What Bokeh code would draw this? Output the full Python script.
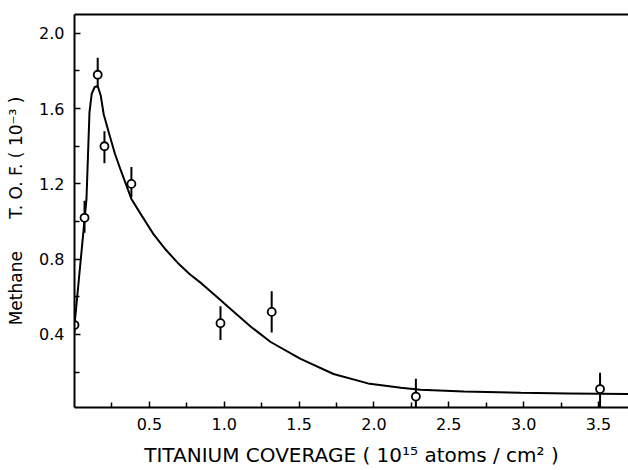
from bokeh.plotting import figure
from bokeh.models import Range1d, LinearAxis, FixedTicker, NumeralTickFormatter
from bokeh.embed import file_html
from bokeh.resources import INLINE

# measured points (Ti coverage, methane TOF x1e-3) with error bar limits
cov = [0.0, 0.067, 0.155, 0.20, 0.38, 0.975, 1.317, 2.28, 3.51]
tof = [0.45, 1.02, 1.78, 1.40, 1.20, 0.46, 0.52, 0.07, 0.11]
err_lo = [0.41, 0.94, 1.71, 1.31, 1.13, 0.37, 0.41, 0.012, 0.012]
err_hi = [0.49, 1.11, 1.87, 1.48, 1.29, 0.55, 0.63, 0.165, 0.197]

# hand-drawn fit curve
curve_x = [0.0, 0.03, 0.06, 0.08, 0.09, 0.10, 0.115, 0.135, 0.155, 0.175, 0.195,
           0.23, 0.27, 0.31, 0.38, 0.45, 0.53, 0.61, 0.69, 0.77, 0.85, 0.95,
           1.05, 1.18, 1.31, 1.51, 1.73, 1.96, 2.18, 2.31, 2.60, 2.98, 3.30, 3.70]
curve_y = [0.45, 0.70, 0.95, 1.12, 1.35, 1.58, 1.68, 1.715, 1.72, 1.67, 1.57,
           1.47, 1.36, 1.27, 1.12, 1.03, 0.93, 0.85, 0.78, 0.72, 0.67, 0.60,
           0.53, 0.44, 0.36, 0.27, 0.19, 0.14, 0.117, 0.106, 0.097, 0.09, 0.087, 0.084]

x_ticks = [0.5, 1.0, 1.5, 2.0, 2.5, 3.0, 3.5]
x_minor = [0.25, 0.75, 1.25, 1.75, 2.25, 2.75, 3.25]
y_ticks = [0.4, 0.8, 1.2, 1.6, 2.0]
y_minor = [0.2, 0.6, 1.0, 1.4, 1.8]

FONT = "DejaVu Sans"
NB = "\u00a0"

p = figure(width=628, height=470, output_backend="svg", toolbar_location=None,
           x_range=Range1d(0, 3.70), y_range=Range1d(0.012, 2.10),
           x_axis_location=None, y_axis_location=None,
           min_border_left=74, min_border_right=0, min_border_top=14,
           min_border_bottom=63)
p.outline_line_color = None
p.xgrid.visible = False
p.ygrid.visible = False
p.background_fill_color = "white"
p.border_fill_color = "white"

xa = LinearAxis(ticker=FixedTicker(ticks=x_ticks, minor_ticks=x_minor),
                formatter=NumeralTickFormatter(format="0.0"))
ya = LinearAxis(ticker=FixedTicker(ticks=y_ticks, minor_ticks=y_minor),
                formatter=NumeralTickFormatter(format="0.0"))
for ax in (xa, ya):
    ax.axis_line_width = 2
    ax.axis_line_color = "black"
    ax.major_tick_in = 6
    ax.major_tick_out = 0
    ax.minor_tick_in = 5
    ax.minor_tick_out = 0
    ax.major_tick_line_width = 1.5
    ax.minor_tick_line_width = 1.5
    ax.major_label_text_font = FONT
    ax.major_label_text_font_size = "16px"
    ax.major_label_text_color = "black"
    ax.axis_label_text_font = FONT
    ax.axis_label_text_font_style = "normal"
    ax.axis_label_text_color = "black"
xa.major_label_standoff = 10
ya.major_label_standoff = 10
xa.axis_label = "TITANIUM COVERAGE ( 10\u00b9\u2075 atoms / cm\u00b2 )"
xa.axis_label_text_font_size = "20px"
xa.axis_label_standoff = 10
ya.axis_label = "Methane" + NB * 6 + "T." + NB + "O." + NB + "F." + NB + "(" + NB + "10\u207b\u00b3" + NB + ")"
ya.axis_label_text_font_size = "17px"
ya.axis_label_standoff = 10
p.add_layout(xa, "below")
p.add_layout(ya, "left")

top = LinearAxis(ticker=FixedTicker(ticks=[]), major_label_standoff=0,
                 major_tick_out=0, major_tick_in=0)
top.axis_line_width = 2
p.add_layout(top, "above")

p.line(curve_x, curve_y, line_color="black", line_width=2)
p.segment(x0=cov, y0=err_lo, x1=cov, y1=err_hi, line_color="black", line_width=2)
p.scatter(cov, tof, marker="circle", size=8, fill_color="white",
          line_color="black", line_width=1.8)

open("out.html", "w").write(file_html(p, INLINE))
